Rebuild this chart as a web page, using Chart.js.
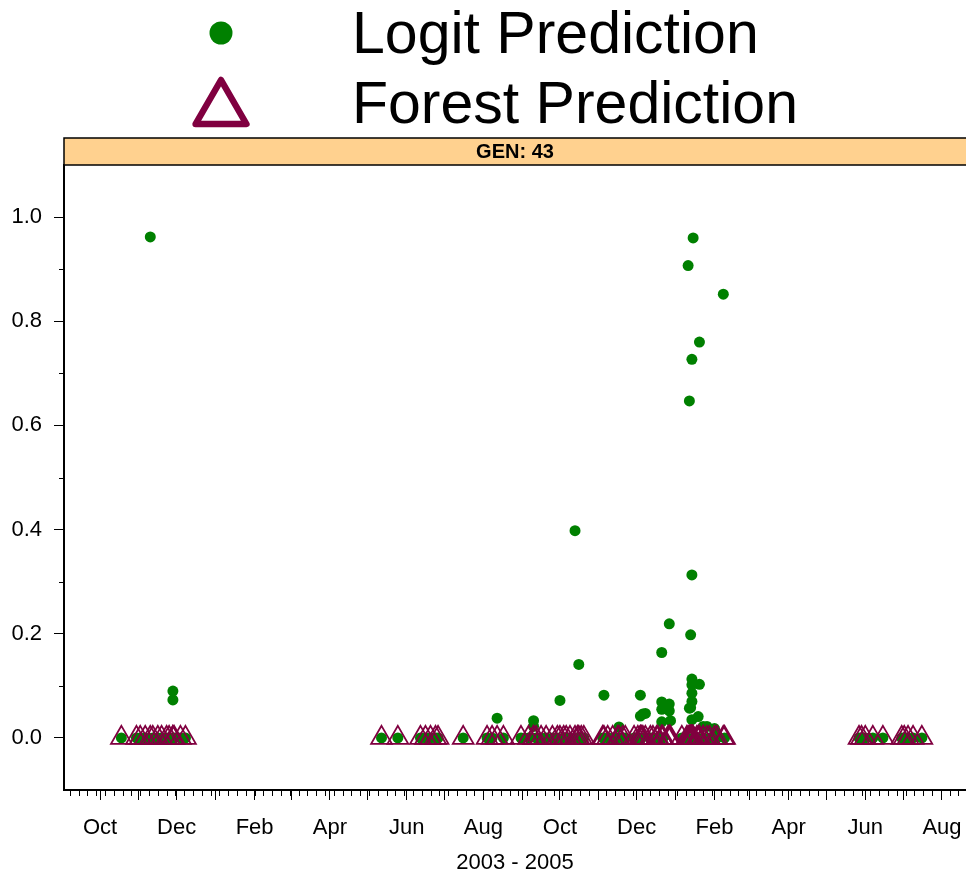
<!DOCTYPE html>
<html>
<head>
<meta charset="utf-8">
<title>GEN 43 predictions</title>
<script src="https://cdn.jsdelivr.net/npm/chart.js@4.4.0/dist/chart.umd.min.js"></script>
<style>
  html, body { margin: 0; padding: 0; background: #fff; }
  #wrap { width: 966px; height: 876px; }
</style>
</head>
<body>
<div id="wrap"><canvas id="predChart" width="966" height="876"></canvas></div>
<script>
// one entry per observation, both models share the date
var obsDates = [
  '2003-10-18', '2003-10-30', '2003-11-02', '2003-11-06', '2003-11-10', '2003-11-12', '2003-11-16',
  '2003-11-19', '2003-11-23', '2003-11-25', '2003-11-28', '2003-11-28', '2003-11-29', '2003-12-04',
  '2003-12-08',
  '2004-05-12', '2004-05-25', '2004-06-12', '2004-06-16', '2004-06-20', '2004-06-24', '2004-06-26',
  '2004-07-16', '2004-08-04', '2004-08-08', '2004-08-12', '2004-08-17', '2004-08-31', '2004-09-06',
  '2004-09-10', '2004-09-10', '2004-09-12', '2004-09-16', '2004-09-20',
  '2004-09-25', '2004-09-29', '2004-10-01', '2004-10-04', '2004-10-06', '2004-10-09', '2004-10-13',
  '2004-10-15', '2004-10-16', '2004-10-18', '2004-10-20', '2004-11-04', '2004-11-05', '2004-11-08',
  '2004-11-12', '2004-11-16', '2004-11-17', '2004-11-20', '2004-11-22', '2004-11-29', '2004-12-02',
  '2004-12-04', '2004-12-04', '2004-12-05', '2004-12-06', '2004-12-08', '2004-12-12', '2004-12-14',
  '2004-12-17', '2004-12-18', '2004-12-21', '2004-12-21', '2004-12-21', '2004-12-21', '2004-12-22',
  '2004-12-26', '2004-12-27', '2004-12-27', '2004-12-27', '2004-12-28',
  '2005-01-06', '2005-01-10', '2005-01-11', '2005-01-12', '2005-01-12', '2005-01-13', '2005-01-13',
  '2005-01-14', '2005-01-14', '2005-01-14', '2005-01-14', '2005-01-14', '2005-01-14', '2005-01-14',
  '2005-01-15', '2005-01-15', '2005-01-18', '2005-01-20', '2005-01-20', '2005-01-19', '2005-01-23',
  '2005-01-23', '2005-01-26', '2005-01-28', '2005-02-01', '2005-02-03', '2005-02-08', '2005-02-09',
  '2005-05-27', '2005-05-29', '2005-06-01', '2005-06-07', '2005-06-15', '2005-06-30', '2005-07-02',
  '2005-07-05', '2005-07-09', '2005-07-16'
];

var logitPred = [
  0, 0, 0, 0, 0.962, 0, 0,
  0, 0, 0, 0.090, 0.073, 0, 0,
  0,
  0, 0, 0, 0, 0, 0, 0,
  0, 0, 0, 0.038, 0, 0, 0,
  0.033, 0.022, 0, 0, 0,
  0, 0, 0.072, 0, 0, 0, 0.398,
  0, 0.141, 0, 0, 0, 0.082, 0,
  0, 0, 0.021, 0, 0, 0, 0,
  0.042, 0.082, 0, 0.046, 0.047, 0, 0,
  0, 0, 0.164, 0.069, 0.055, 0.031, 0,
  0.057, 0.219, 0.065, 0.052, 0.033,
  0, 0, 0.907, 0.647, 0.057, 0.198, 0.058,
  0.313, 0.113, 0.102, 0.070, 0.035, 0.727, 0.086,
  0.960, 0, 0, 0.760, 0.103, 0.041, 0.022,
  0, 0.022, 0, 0.018, 0, 0.852, 0,
  0, 0, 0, 0, 0, 0, 0,
  0, 0, 0
];

var forestPred = [
  0, 0, 0, 0, 0, 0, 0,
  0, 0, 0, 0, 0, 0, 0,
  0,
  0, 0, 0, 0, 0, 0, 0,
  0, 0, 0, 0, 0, 0, 0,
  0, 0, 0, 0, 0,
  0, 0, 0, 0, 0, 0, 0,
  0, 0, 0, 0, 0, 0, 0,
  0, 0, 0, 0, 0, 0, 0,
  0, 0, 0, 0, 0, 0, 0,
  0, 0, 0, 0, 0, 0, 0,
  0, 0, 0, 0, 0,
  0, 0, 0, 0, 0, 0, 0,
  0, 0, 0, 0, 0, 0, 0,
  0, 0, 0, 0, 0, 0, 0,
  0, 0, 0, 0, 0, 0, 0,
  0, 0, 0, 0, 0, 0, 0,
  0, 0, 0
];

var seriesNames = ['Logit Prediction', 'Forest Prediction'];
var panelLabel = 'GEN: 43';
var xAxisTitle = '2003 - 2005';

var tickDates = [
  '2003-10-01', '2003-11-01', '2003-12-01', '2004-01-01', '2004-02-01', '2004-03-01',
  '2004-04-01', '2004-05-01', '2004-06-01', '2004-07-01', '2004-08-01', '2004-09-01',
  '2004-10-01', '2004-11-01', '2004-12-01', '2005-01-01', '2005-02-01', '2005-03-01',
  '2005-04-01', '2005-05-01', '2005-06-01', '2005-07-01', '2005-08-01'
];
var tickLabels = [
  'Oct', '', 'Dec', '', 'Feb', '', 'Apr', '', 'Jun', '', 'Aug', '',
  'Oct', '', 'Dec', '', 'Feb', '', 'Apr', '', 'Jun', '', 'Aug'
];
var yTicks = [0, 0.2, 0.4, 0.6, 0.8, 1.0];
var yMinorTicks = [0.1, 0.3, 0.5, 0.7, 0.9];

var fontFamily = '"Liberation Sans", Arial, Helvetica, sans-serif';
var dotColor = '#008000';
var triColor = '#800040';

var xMin = Date.UTC(2003, 8, 2, 8);
var xMax = Date.UTC(2005, 7, 20, 3);

let toPoints = (values) => {
  return obsDates.map(function(d, i) {
    return { x: Date.parse(d), y: values[i] };
  });
};

let noPadding = (scale) => {
  scale.paddingLeft = 0;
  scale.paddingRight = 0;
  scale.paddingTop = 0;
  scale.paddingBottom = 0;
};

// weekly minor ticks on x (sundays) and half steps on y
var minorTicks = {
  id: 'minorTicks',
  afterDraw: function(chart) {
    var ctx = chart.ctx;
    var xs = chart.scales.x, ys = chart.scales.y;
    ctx.save();
    ctx.strokeStyle = '#000';
    ctx.lineWidth = 1;
    ctx.beginPath();
    var day = 24 * 3600 * 1000;
    for (var t = Date.UTC(2003, 8, 7); t <= xMax; t += 7 * day) {
      var px = Math.round(xs.getPixelForValue(t)) + 0.5;
      ctx.moveTo(px, xs.top);
      ctx.lineTo(px, xs.top + 6);
    }
    yMinorTicks.forEach(function(v) {
      var py = Math.round(ys.getPixelForValue(v)) + 0.5;
      ctx.moveTo(ys.right - 5, py);
      ctx.lineTo(ys.right, py);
    });
    ctx.stroke();
    ctx.restore();
  }
};

// lattice style strip and key above the panel
var stripAndKey = {
  id: 'stripAndKey',
  afterDraw: function(chart) {
    var ctx = chart.ctx, area = chart.chartArea;
    var stripTop = 138;
    ctx.save();
    ctx.fillStyle = '#FFD18F';
    ctx.fillRect(area.left, stripTop, area.right - area.left, area.top - stripTop);
    ctx.strokeStyle = '#000';
    ctx.lineWidth = 1.5;
    ctx.strokeRect(area.left, stripTop, area.right - area.left + 4, area.top - stripTop);
    ctx.fillStyle = '#000';
    ctx.font = 'bold 20px ' + fontFamily;
    ctx.textAlign = 'center';
    ctx.textBaseline = 'middle';
    ctx.fillText(panelLabel, (area.left + area.right) / 2, (stripTop + area.top) / 2 + 1);

    // key symbols
    ctx.fillStyle = dotColor;
    ctx.beginPath();
    ctx.arc(221, 33, 11.5, 0, Math.PI * 2);
    ctx.fill();

    ctx.strokeStyle = triColor;
    ctx.lineWidth = 6.5;
    ctx.lineJoin = 'round';
    ctx.beginPath();
    ctx.moveTo(221, 80);
    ctx.lineTo(246.4, 124);
    ctx.lineTo(195.6, 124);
    ctx.closePath();
    ctx.stroke();

    ctx.fillStyle = '#000';
    ctx.font = '59px ' + fontFamily;
    ctx.textAlign = 'left';
    ctx.textBaseline = 'alphabetic';
    ctx.fillText(seriesNames[0], 352, 53);
    ctx.fillText(seriesNames[1], 352, 123);
    ctx.restore();
  }
};

var ctxP = document.getElementById('predChart').getContext('2d');

var predChart = new Chart(ctxP, {
  type: 'scatter',
  data: {
    datasets: [
      {
        label: seriesNames[1],
        data: toPoints(forestPred),
        order: 0,
        pointStyle: 'triangle',
        pointRadius: 12,
        pointHoverRadius: 12,
        backgroundColor: 'rgba(0,0,0,0)',
        borderColor: triColor,
        borderWidth: 1.8
      },
      {
        label: seriesNames[0],
        data: toPoints(logitPred),
        order: 1,
        pointStyle: 'circle',
        pointRadius: 5.5,
        pointHoverRadius: 5.5,
        backgroundColor: dotColor,
        borderColor: dotColor,
        borderWidth: 0
      }
    ]
  },
  options: {
    responsive: false,
    animation: false,
    devicePixelRatio: 1,
    layout: { autoPadding: false, padding: { top: 165, left: 0, right: 0, bottom: 0 } },
    plugins: {
      legend: { display: false },
      tooltip: { enabled: false }
    },
    scales: {
      x: {
        type: 'linear',
        min: xMin,
        max: xMax,
        afterBuildTicks: function(scale) {
          scale.ticks = tickDates.map(function(d) { return { value: Date.parse(d) }; });
        },
        afterFit: function(scale) {
          scale.height = 86;
          noPadding(scale);
        },
        ticks: {
          autoSkip: false,
          maxRotation: 0,
          padding: 15,
          color: '#000',
          font: { family: fontFamily, size: 22 },
          callback: function(value, index) { return tickLabels[index]; }
        },
        grid: { drawOnChartArea: false, drawTicks: true, tickLength: 10, tickColor: '#000', tickWidth: 1 },
        border: { display: true, color: '#000', width: 2 },
        title: {
          display: true,
          text: xAxisTitle,
          color: '#000',
          font: { family: fontFamily, size: 22 },
          padding: { top: 0, bottom: 0 }
        }
      },
      y: {
        min: -0.1,
        max: 1.1,
        afterBuildTicks: function(scale) {
          scale.ticks = yTicks.map(function(v) { return { value: v }; });
        },
        afterFit: function(scale) {
          scale.width = 64;
          noPadding(scale);
        },
        ticks: {
          padding: 12,
          color: '#000',
          font: { family: fontFamily, size: 22 },
          callback: function(value) { return Number(value).toFixed(1); }
        },
        grid: { drawOnChartArea: false, drawTicks: true, tickLength: 10, tickColor: '#000', tickWidth: 1 },
        border: { display: true, color: '#000', width: 2 }
      }
    }
  },
  plugins: [minorTicks, stripAndKey]
});
</script>
</body>
</html>
